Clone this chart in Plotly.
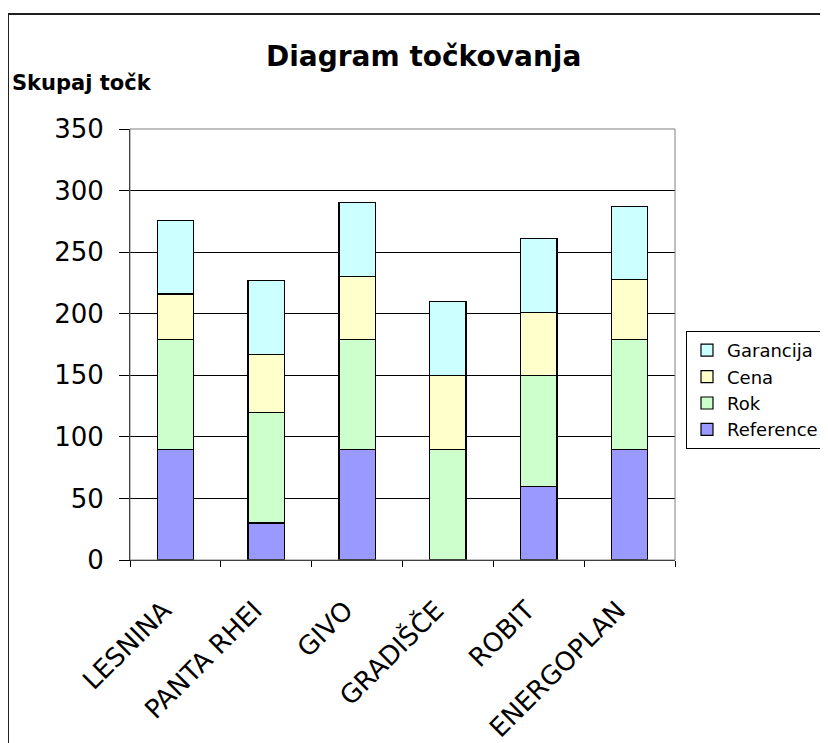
import plotly.graph_objects as go

categories = ["LESNINA", "PANTA RHEI", "GIVO", "GRADIŠČE", "ROBIT", "ENERGOPLAN"]
reference = [90, 30, 90, 0, 60, 90]
rok = [89, 90, 89, 90, 90, 89]
cena = [37, 47, 51, 60, 51, 49]
garancija = [60, 60, 60, 60, 60, 59]
y_ticks = [0, 50, 100, 150, 200, 250, 300, 350]

series = [
    ("Reference", reference, "#9999FF"),
    ("Rok", rok, "#CCFFCC"),
    ("Cena", cena, "#FFFFCC"),
    ("Garancija", garancija, "#CCFFFF"),
]

W, H = 828, 743
OFF = 8  # page body margin offset
L, R, T, B = 130 - OFF, 675 - OFF, 129 - OFF, 560 - OFF  # plot area in figure pixels


def px_x(p):
    return (p - OFF - L) / (R - L)


def px_y(p):
    return (B - (p - OFF)) / (B - T)


fig = go.Figure()
for name, vals, col in series:
    fig.add_trace(go.Bar(
        name=name, x=categories, y=vals,
        marker=dict(color=col, line=dict(color="black", width=1.2)),
    ))

FONT = "DejaVu Sans"
NB = "\u00a0\u00a0"

fig.update_layout(
    width=W, height=H,
    margin=dict(l=L, r=W - R, t=T, b=H - B, pad=0, autoexpand=False),
    barmode="stack",
    bargap=0.6,
    plot_bgcolor="white",
    paper_bgcolor="white",
    font=dict(family=FONT, color="black"),
    showlegend=True,
    legend=dict(
        traceorder="reversed",
        x=px_x(686), y=px_y(331), xanchor="left", yanchor="top",
        bordercolor="black", borderwidth=1,
        font=dict(family=FONT, size=18, color="black"),
        itemwidth=30,
        tracegroupgap=0,
    ),
    xaxis=dict(
        type="category",
        automargin=False,
        tickangle=-45,
        tickvals=categories,
        ticktext=[c + NB for c in categories],
        tickfont=dict(family=FONT, size=26, color="black"),
        ticks="outside", ticklen=6, tickcolor="black",
        tickson="boundaries",
        showline=True, linecolor="black", linewidth=1,
        showgrid=False,
        ticklabelstandoff=12,
    ),
    yaxis=dict(
        automargin=False,
        range=[0, 350],
        tickvals=y_ticks,
        tickfont=dict(family=FONT, size=26, color="black"),
        ticks="outside", ticklen=10, tickcolor="black",
        showline=True, linecolor="black", linewidth=1,
        showgrid=True, gridcolor="black", gridwidth=1,
        zeroline=False,
        ticklabelstandoff=10,
    ),
    annotations=[
        dict(text="<b>Diagram točkovanja</b>", xref="paper", yref="paper",
             x=px_x(423), y=px_y(57), xanchor="center", yanchor="middle",
             showarrow=False, font=dict(family=FONT, size=28, color="black")),
        dict(text="<b>Skupaj točk</b>", xref="paper", yref="paper",
             x=px_x(10), y=px_y(83), xanchor="left", yanchor="middle",
             showarrow=False, font=dict(family=FONT, size=21, color="black")),
    ],
    shapes=[
        # plot area border (grey top / right)
        dict(type="rect", xref="paper", yref="paper", x0=0, x1=1, y0=0, y1=1,
             line=dict(color="#808080", width=1), layer="above"),
        # chart area border
        dict(type="rect", xref="paper", yref="paper",
             x0=px_x(8), x1=px_x(900), y0=px_y(900), y1=px_y(14),
             line=dict(color="#202020", width=2), layer="above"),
    ],
)

fig.write_html("out.html")
